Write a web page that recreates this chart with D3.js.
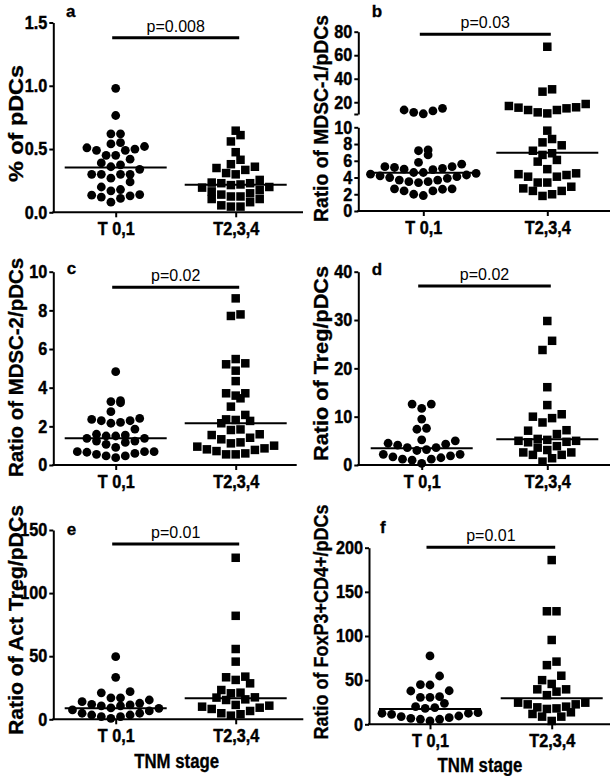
<!DOCTYPE html>
<html><head><meta charset="utf-8">
<script src="https://cdn.jsdelivr.net/npm/d3@7"></script>
<style>
body{margin:0;background:#fff}
svg{display:block}
text{font-family:"Liberation Sans",Arial,Helvetica,sans-serif;fill:#000}
</style>
</head><body>
<svg id="chart" width="615" height="776"></svg>
<script>
// ---------- DATA ----------
const categories = ["T 0,1", "T2,3,4"];
const panelLetters = ["a", "b", "c", "d", "e", "f"];
const yLabels = ["% of pDCs", "Ratio of MDSC-1/pDCs", "Ratio of MDSC-2/pDCs",
  "Ratio of Treg/pDCs", "Ratio of Act Treg/pDCs", "Ratio of FoxP3+CD4+/pDCs"];
const pValues = ["p=0.008", "p=0.03", "p=0.02", "p=0.02", "p=0.01", "p=0.01"];
const xTitle = "TNM stage";

const a_T01 = [0.98, 0.765, 0.62, 0.62, 0.55, 0.52, 0.50, 0.49, 0.49, 0.51, 0.54, 0.45, 0.45, 0.42,
  0.39, 0.375, 0.34, 0.36, 0.30, 0.30, 0.27, 0.30, 0.30, 0.24, 0.20, 0.18, 0.17, 0.14, 0.12, 0.08,
  0.11, 0.13, 0.135];
const a_T234 = [0.645, 0.61, 0.56, 0.475, 0.415, 0.38, 0.36, 0.35, 0.335, 0.31, 0.30, 0.256, 0.235,
  0.23, 0.215, 0.195, 0.165, 0.14, 0.15, 0.175, 0.20, 0.22, 0.23, 0.125, 0.105, 0.055, 0.045, 0.045,
  0.08, 0.105, 0.125];
const b_T01 = [14.8, 12.6, 10.2, 11.4, 13.4, 7.2, 7.3, 6.7, 5.6, 5.3, 5.1, 4.95, 5.0, 5.2, 5.3, 5.8,
  4.6, 4.4, 4.2, 4.0, 3.9, 4.1, 4.3, 4.5, 4.6, 3.7, 3.5, 3.4, 3.5, 3.7, 2.65, 2.6, 2.4, 1.85, 2.0, 2.4, 2.65];
const b_T234 = [67.2, 31, 29, 18.5, 15.7, 14.8, 13.4, 10.5, 11.4, 13.4, 15.4, 16.8, 9.6, 8.2, 8.6, 7.85,
  6.9, 6.7, 7.2, 6.1, 5.9, 5.0, 4.4, 4.1, 3.4, 3.4, 4.1, 4.3, 4.5, 2.7, 2.4, 1.8, 2.0, 2.4, 2.9];
const c_T01 = [4.83, 3.33, 3.22, 3.28, 2.76, 2.41, 2.29, 2.2, 1.86, 2.16, 2.29, 2.36, 1.59, 1.5, 1.38,
  1.24, 1.17, 1.24, 1.38, 1.5, 1.55, 0.69, 0.66, 0.55, 0.47, 0.38, 0.47, 0.6, 0.69, 0.69, 0.91, 1.07];
const c_T234 = [8.62, 7.79, 7.71, 5.48, 5.21, 5.26, 4.88, 4.34, 3.71, 3.45, 3.71, 3.59, 3.02, 2.59, 2.33,
  2.16, 2.28, 2.36, 1.84, 1.81, 1.55, 1.41, 1.17, 1.12, 1.33, 1.59, 1.0, 0.86, 0.78, 0.6, 0.55, 0.55,
  0.72, 0.81, 0.95];
const d_T01 = [12.6, 11.7, 12.6, 9.5, 7.4, 7.6, 5.2, 4.5, 4.3, 3.6, 3.2, 3.6, 4.1, 5.0, 2.2, 1.9, 1.5,
  1.2, 0.34, 1.0, 1.2, 1.7, 2.2, 3.0];
const d_T234 = [29.8, 25.7, 23.8, 16.1, 12.4, 10.0, 9.7, 10.5, 8.8, 7.2, 7.1, 6.4, 5.2, 4.8, 4.7, 5.0,
  5.0, 5.4, 3.9, 3.6, 3.1, 2.6, 2.1, 0.7, 1.4, 2.1, 2.6];
const e_T01 = [49.6, 33.3, 21, 21.9, 17, 15.3, 12.7, 11.4, 10.6, 10.6, 11.9, 14, 17, 9.0, 6.6, 4.8, 3.4,
  2.1, 0.8, 2.1, 3.4, 4.8, 7.4, 8.7];
const e_T234 = [128, 82, 55.7, 45.7, 33.3, 28.5, 31.2, 33.8, 21.1, 17.4, 15.8, 15.3, 17.2, 20.6, 23.2,
  11.4, 10, 8.2, 4.8, 2.9, 4, 6.6, 9.2, 10.8];
const f_T01 = [77.4, 54.7, 38, 45, 44.5, 37.7, 30.6, 30.6, 31.3, 23.8, 18, 18.9, 20, 13.2, 11.3, 9.4,
  7.5, 5.7, 3.8, 5.7, 6.8, 8.7, 12.5, 12.5];
const f_T234 = [186, 128, 128, 95.5, 67, 71, 50, 55, 39.6, 45.7, 39.6, 33, 37, 24.5, 22.6, 19.2, 17.4,
  18, 20, 22.6, 24.5, 13.6, 8.7, 3.8, 8.7, 11.7];

const medians = [[0.355, 0.218], [4.58, 6.95], [1.38, 2.16], [3.45, 5.35], [8.8, 16.6], [17.4, 29.4]];

const a_ticks = [0, 0.5, 1.0, 1.5];
const b_ticksLow = [0, 2, 4, 6, 8, 10];
const b_ticksHigh = [10, 20, 40, 60, 80];
const c_ticks = [0, 2, 4, 6, 8, 10];
const d_ticks = [0, 10, 20, 30, 40];
const e_ticks = [0, 50, 100, 150];
const f_ticks = [0, 50, 100, 150, 200];

const seriesData = [[a_T01, a_T234], [b_T01, b_T234], [c_T01, c_T234], [d_T01, d_T234], [e_T01, e_T234], [f_T01, f_T234]];
const tickSets = [a_ticks, null, c_ticks, d_ticks, e_ticks, f_ticks];
const domainMax = [1.5, 80, 10, 40, 150, 200];

// ---------- LAYOUT (geometry / style) ----------
const geom = [
  {ax: 53.3, right: 303, c1: 115.7, c2: 235.7, y0: 212.3, yTop: 22.5, pY: 37.7, lx: 66, ly: 17.3, labX: 16, labY: 123.5, labLen: 117, fmt: ".1f"},
  {ax: 358.3, right: 610, c1: 423.3, c2: 547.3, y0: 211, yTop: 31.7, lowTop: 127.3, highBottom: 114, pY: 34.3, lx: 371.7, ly: 16.7, labX: 321, labY: 118.5, labLen: 207},
  {ax: 53.3, right: 296.7, c1: 115.7, c2: 235.7, y0: 465, yTop: 271.7, pY: 287.3, lx: 66.7, ly: 274.3, labX: 16, labY: 367.5, labLen: 219},
  {ax: 358.3, right: 610, c1: 421.7, c2: 547.3, y0: 465, yTop: 271.7, pY: 286, lx: 371.7, ly: 275, labX: 321, labY: 363.5, labLen: 195},
  {ax: 53.3, right: 303.3, c1: 115.7, c2: 235.7, y0: 719.3, yTop: 530, pY: 544, lx: 66.7, ly: 535, labX: 16, labY: 620, labLen: 230, tx: 176.7, ty: 768.3},
  {ax: 369, right: 610, c1: 430, c2: 551.7, y0: 724.3, yTop: 547.7, pY: 547.3, lx: 380, ly: 533.3, labX: 321, labY: 622, labLen: 235, tx: 480, ty: 771.7}
];

const svg = d3.select("#chart");
const BIN = 10, SPACING = 9.6, R = 4.4, SQ = 8.5;

function condense(sel, f) {
  sel.each(function () {
    const L = this.getComputedTextLength();
    if (L > 0) d3.select(this).attr("textLength", L * f).attr("lengthAdjust", "spacingAndGlyphs");
  });
}

function swarm(vals, yf, cx) {
  const pts = vals.map(v => ({v, y: yf(v)})).sort((p, q) => q.y - p.y || p.v - q.v);
  const rows = []; let cur = null;
  pts.forEach(p => {
    if (!cur || cur.y0 - p.y > BIN) { cur = {y0: p.y, items: []}; rows.push(cur); }
    cur.items.push(p);
  });
  rows.forEach(r => {
    const n = r.items.length;
    const offs = d3.range(n).map(k => (k - (n - 1) / 2) * SPACING)
      .sort((a, b) => Math.abs(a) - Math.abs(b) || a - b);
    r.items.sort((p, q) => p.v - q.v).forEach((p, i) => p.x = cx + offs[i]);
  });
  return pts;
}

function styleAxis(g) {
  g.attr("font-size", null).attr("font-family", null);
  g.selectAll(".domain").attr("stroke", "#000").attr("stroke-width", 2);
  g.selectAll(".tick line").attr("stroke", "#000").attr("stroke-width", 2);
  g.selectAll(".tick text").attr("font-size", 18).attr("font-weight", "bold").attr("fill", "#000")
    .attr("stroke", "#000").attr("stroke-width", 0.45);
}

geom.forEach((G, i) => {
  const g = svg.append("g");
  const x = d3.scalePoint().domain(categories).range([G.c1, G.c2]);
  let yf;
  if (i === 1) {
    const low = d3.scaleLinear().domain([0, 10]).range([G.y0, G.lowTop]);
    const high = d3.scaleLinear().domain([10, domainMax[i]]).range([G.highBottom, G.yTop]);
    yf = v => v <= 10 ? low(v) : high(v);
    const gl = g.append("g").attr("transform", `translate(${G.ax},0)`)
      .call(d3.axisLeft(low).tickValues(b_ticksLow).tickSize(4).tickPadding(2).tickSizeOuter(0));
    styleAxis(gl);
    const gh = g.append("g").attr("transform", `translate(${G.ax},0)`)
      .call(d3.axisLeft(high).tickValues(b_ticksHigh).tickSize(4).tickPadding(2).tickSizeOuter(0)
        .tickFormat(d => d === 10 ? "" : d));
    styleAxis(gh);
    condense(gl.selectAll(".tick text"), 0.9);
    condense(gh.selectAll(".tick text"), 0.9);
  } else {
    const y = d3.scaleLinear().domain([0, domainMax[i]]).range([G.y0, G.yTop]);
    yf = y;
    const ga = g.append("g").attr("transform", `translate(${G.ax},0)`)
      .call(d3.axisLeft(y).tickValues(tickSets[i]).tickSize(4).tickPadding(2).tickSizeOuter(0)
        .tickFormat(G.fmt ? d3.format(G.fmt) : d3.format("d")));
    styleAxis(ga);
    condense(ga.selectAll(".tick text"), 0.9);
  }
  // x axis
  const gx = g.append("g").attr("transform", `translate(0,${G.y0})`)
    .call(d3.axisBottom(x).tickSize(5).tickPadding(5).tickSizeOuter(0));
  styleAxis(gx);
  gx.select(".domain").remove();
  gx.selectAll(".tick text").attr("dy", null).attr("y", 22.5);
  condense(gx.selectAll(".tick text"), 0.9);
  g.append("line").attr("x1", G.ax - 1).attr("x2", G.right).attr("y1", G.y0).attr("y2", G.y0)
    .attr("stroke", "#000").attr("stroke-width", 2);

  // points
  const [s1, s2] = seriesData[i];
  const p1 = swarm(s1, yf, x(categories[0]));
  const p2 = swarm(s2, yf, x(categories[1]));
  g.append("g").selectAll("circle").data(p1).join("circle")
    .attr("cx", d => d.x).attr("cy", d => d.y).attr("r", R).attr("fill", "#000");
  g.append("g").selectAll("rect").data(p2).join("rect")
    .attr("x", d => d.x - SQ / 2).attr("y", d => d.y - SQ / 2).attr("width", SQ).attr("height", SQ).attr("fill", "#000");

  // medians
  medians[i].forEach((m, k) => {
    const cx = x(categories[k]);
    g.append("line").attr("x1", cx - 51).attr("x2", cx + 51).attr("y1", yf(m)).attr("y2", yf(m))
      .attr("stroke", "#000").attr("stroke-width", 2);
  });

  // p-value bar
  const px1 = x(categories[0]) - 3.5, px2 = x(categories[1]) + 3.5;
  g.append("line").attr("x1", px1).attr("x2", px2).attr("y1", G.pY).attr("y2", G.pY)
    .attr("stroke", "#000").attr("stroke-width", 3);
  g.append("text").attr("x", (px1 + px2) / 2).attr("y", G.pY - 6).attr("text-anchor", "middle")
    .attr("font-size", 16).text(pValues[i]);

  // panel letter
  g.append("text").attr("x", G.lx).attr("y", G.ly).attr("font-size", 17).attr("font-weight", "bold")
    .attr("stroke", "#000").attr("stroke-width", 0.3)
    .text(panelLetters[i]);

  // y label
  g.append("text").attr("transform", `translate(${G.labX},${G.labY}) rotate(-90)`)
    .attr("text-anchor", "middle").attr("dy", "0.35em").attr("font-size", 19.5).attr("font-weight", "bold")
    .attr("stroke", "#000").attr("stroke-width", 0.3)
    .attr("textLength", G.labLen).attr("lengthAdjust", "spacingAndGlyphs")
    .text(yLabels[i]);

  if (G.tx) {
    const t = g.append("text").attr("x", G.tx).attr("y", G.ty).attr("text-anchor", "middle")
      .attr("font-size", 20).attr("font-weight", "bold").attr("stroke", "#000").attr("stroke-width", 0.3)
      .text(xTitle);
    condense(t, 0.84);
  }
});
</script>
</body></html>
